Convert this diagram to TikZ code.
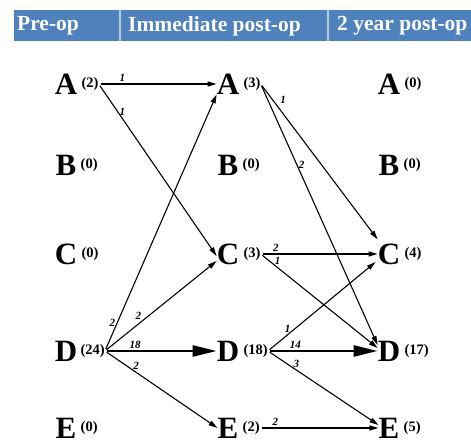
\documentclass[tikz,border=0pt]{standalone}
\usepackage{fontspec}
\setmainfont{Liberation Serif}
\usepackage{xcolor}
\usetikzlibrary{arrows.meta}
\definecolor{band}{RGB}{79, 129, 189}
\definecolor{rule}{RGB}{184, 204, 228}
\tikzset{
  letter/.style={font=\fontsize{31}{31}\selectfont\bfseries, inner sep=0pt},
  count/.style={font=\fontsize{14.5}{14.5}\selectfont\bfseries, inner sep=0pt, anchor=west, xshift=4pt},
  head/.style={font=\fontsize{21.5}{22}\selectfont\bfseries, text=white, inner sep=0pt, anchor=west},
  num/.style={font=\fontsize{11}{11}\selectfont\bfseries\itshape, inner sep=1.5pt},
  flow/.style={-{Triangle[length=9pt,width=5pt]}, line width=1.1pt, shorten <=2pt},
  major/.style={-{Triangle[length=24pt,width=11pt]}, line width=2.6pt, shorten <=2pt}
}
\begin{document}
\begin{tikzpicture}[x=1pt,y=-1pt]
\useasboundingbox (0,0) rectangle (471,446);
% header band
\fill[band] (14,10.5) rectangle (471,41.5);
\draw[rule,line width=1.5pt] (120,10.5) -- (120,41.5);
\draw[rule,line width=1.5pt] (328,10.5) -- (328,41.5);
\node[head] (hPre) at (17,26) {Pre-op};
\node[head] (hImm) at (128,26) {Immediate post-op};
\node[head] (hTwo) at (337,26) {2 year post-op};
% letters and counts
\foreach \col/\x in {p/66,i/228,y/389}
  \foreach \row/\y in {A/84,B/165,C/254,D/351,E/428}
    \node[letter] (\col\row) at (\x,\y) {\row};
\node[count] (pAn) at (pA.east) {(2)};
\node[count] (pBn) at (pB.east) {(0)};
\node[count] (pCn) at (pC.east) {(0)};
\node[count,xshift=-1pt] (pDn) at (pD.east) {(24)};
\node[count] (pEn) at (pE.east) {(0)};
\node[count] (iAn) at (iA.east) {(3)};
\node[count] (iBn) at (iB.east) {(0)};
\node[count] (iCn) at (iC.east) {(3)};
\node[count] (iDn) at (iD.east) {(18)};
\node[count] (iEn) at (iE.east) {(2)};
\node[count] (yAn) at (yA.east) {(0)};
\node[count] (yBn) at (yB.east) {(0)};
\node[count] (yCn) at (yC.east) {(4)};
\node[count] (yDn) at (yD.east) {(17)};
\node[count] (yEn) at (yE.east) {(5)};
% pre-op to immediate
\draw[flow] (pAn.east) -- node[num,pos=0.2,above] {1} (iA.west);
\draw[flow] (pAn.east) -- node[num,pos=0.16,right] {1} ([yshift=-2pt]iC.west);
\draw[flow] (pDn.east) -- node[num,pos=0.11,left] {2} (iA.south west);
\draw[flow] (pDn.east) -- node[num,pos=0.3,above,yshift=2pt] {2} ([yshift=-7pt]iC.west);
\draw[major] (pDn.east) -- node[num,pos=0.27,above] {18} (iD.west);
\draw[flow] (pDn.east) -- node[num,pos=0.27,above right,xshift=-4pt] {2} (iE.west);
% immediate to 2 year
\draw[flow] (iAn.east) -- node[num,pos=0.1,right,xshift=6pt] {1} ([yshift=4pt]yC.north west);
\draw[flow] (iAn.east) -- node[num,pos=0.31,right] {2} ([yshift=6pt]yD.west);
\draw[flow] (iCn.east) -- node[num,pos=0.13,above] {2} (yC.west);
\draw[flow] (iCn.east) -- node[num,pos=0.13,above right,xshift=-3pt] {1} ([yshift=3pt]yD.west);
\draw[flow] (iDn.east) -- node[num,pos=0.19,above left,xshift=4pt] {1} ([yshift=-8pt,xshift=-2pt]yC.west);
\draw[major] (iDn.east) -- node[num,pos=0.25,above] {14} (yD.west);
\draw[flow] (iDn.east) -- node[num,pos=0.25,above right,xshift=-4pt] {3} ([yshift=3pt]yE.west);
\draw[flow] (iEn.east) -- node[num,pos=0.13,above] {2} (yE.west);
\end{tikzpicture}
\end{document}
